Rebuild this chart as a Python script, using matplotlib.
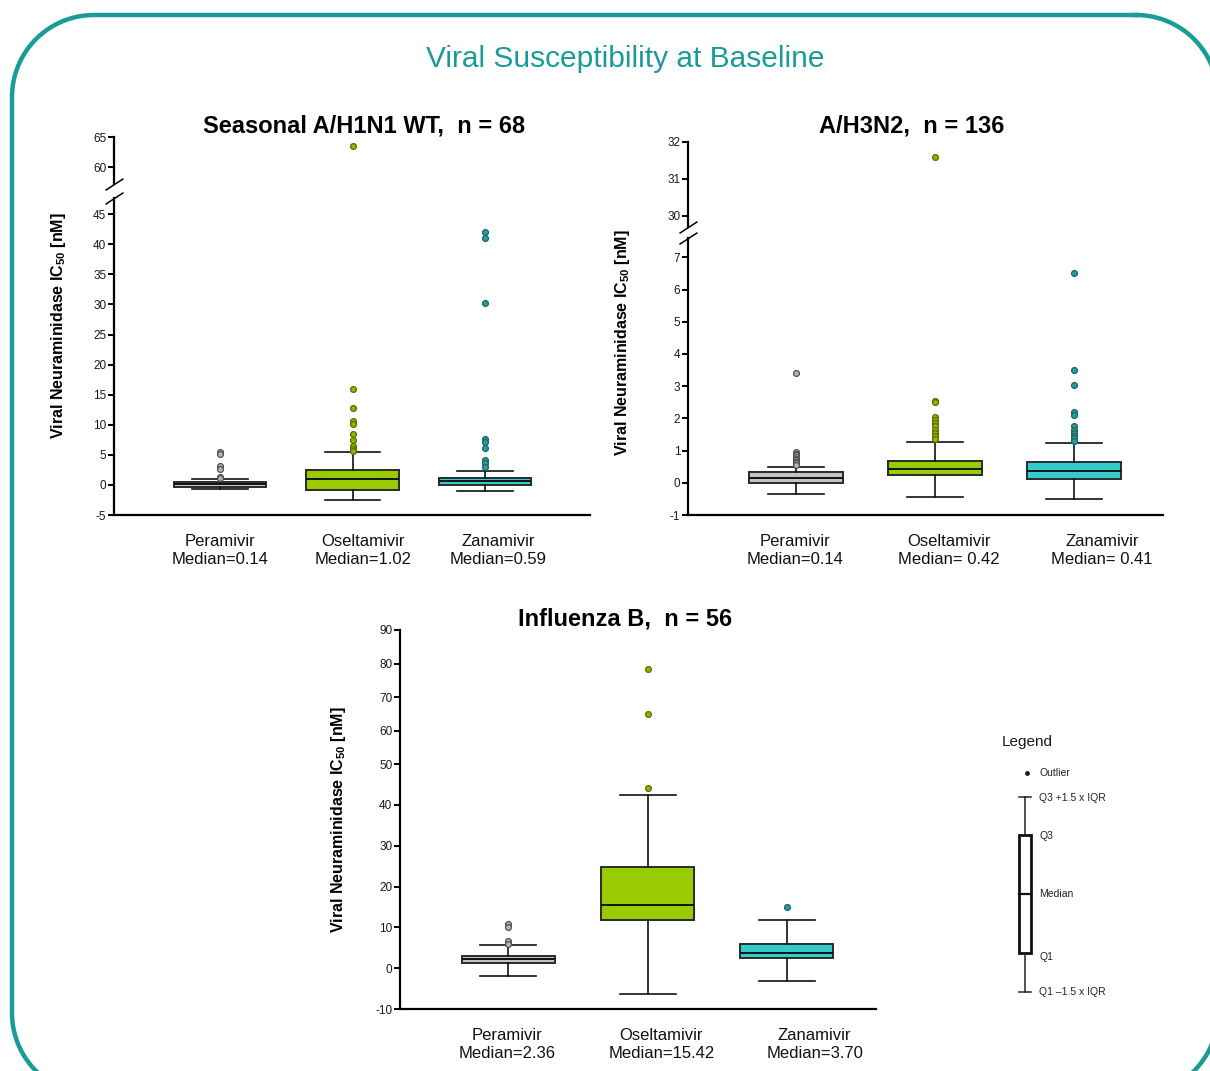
import numpy as np
import matplotlib
matplotlib.use("Agg")
import matplotlib.pyplot as plt
from matplotlib.patches import Rectangle

plt.rcParams['font.family'] = ['Liberation Sans', 'DejaVu Sans']
plt.rcParams['mathtext.fontset'] = 'custom'
plt.rcParams['mathtext.rm'] = 'Liberation Sans'
plt.rcParams['mathtext.bf'] = 'Liberation Sans:bold'
plt.rcParams['axes.unicode_minus'] = False

W, H = 1210, 1071

# ---- data ----
drugs = ["Peramivir", "Oseltamivir", "Zanamivir"]

h1n1_median_text = ["Median=0.14", "Median=1.02", "Median=0.59"]
h1n1_q1 = [-0.3, -0.8, 0.05]
h1n1_med = [0.14, 1.02, 0.59]
h1n1_q3 = [0.5, 2.5, 1.1]
h1n1_whislo = [-0.65, -2.5, -1.0]
h1n1_whishi = [1.05, 5.5, 2.3]
h1n1_fliers = [[5.5, 5.1, 3.1, 2.6, 1.3, 1.1],
               [63.5, 15.9, 12.8, 10.7, 10.2, 8.5, 7.5, 6.5, 6.0, 5.7],
               [42.0, 41.0, 30.2, 7.6, 7.2, 6.2, 4.2, 3.6, 2.9]]

h3n2_median_text = ["Median=0.14", "Median= 0.42", "Median= 0.41"]
h3n2_q1 = [-0.02, 0.25, 0.11]
h3n2_med = [0.14, 0.42, 0.37]
h3n2_q3 = [0.32, 0.69, 0.66]
h3n2_whislo = [-0.36, -0.44, -0.51]
h3n2_whishi = [0.49, 1.27, 1.23]
h3n2_fliers = [[3.4, 0.95, 0.9, 0.85, 0.8, 0.75, 0.7, 0.65, 0.6, 0.55],
               [31.6, 2.55, 2.5, 2.05, 1.95, 1.85, 1.75, 1.65, 1.55, 1.45, 1.35],
               [6.5, 3.5, 3.05, 2.2, 2.1, 1.75, 1.65, 1.55, 1.45, 1.38, 1.3]]

flub_median_text = ["Median=2.36", "Median=15.42", "Median=3.70"]
flub_q1 = [1.3, 11.9, 2.5]
flub_med = [2.36, 15.42, 3.70]
flub_q3 = [3.0, 24.7, 6.0]
flub_whislo = [-2.0, -6.3, -3.2]
flub_whishi = [5.8, 42.4, 11.9]
flub_fliers = [[10.9, 10.2, 6.6, 6.0], [78.4, 65.0, 44.2], [14.95]]

box_colors = ["#c4c4c4", "#99cc00", "#33cccc"]
flier_face = ["#b5b5b5", "#8db600", "#2a9d9d"]
flier_edge = ["#505050", "#587000", "#1b6262"]
teal = "#1a9a98"
ylabel = r"Viral Neuraminidase IC$_{\mathbf{50}}$ [nM]"


def rect(x0, y0, x1, y1):
    return [x0 / W, 1 - y1 / H, (x1 - x0) / W, (y1 - y0) / H]


def make_stats(q1, med, q3, lo, hi, fl):
    return [dict(q1=q1[i], med=med[i], q3=q3[i], whislo=lo[i], whishi=hi[i],
                 fliers=fl[i], label=drugs[i]) for i in range(3)]


def draw_boxes(ax, stats, width):
    for i, s in enumerate(stats):
        ax.bxp([s], positions=[i + 1], widths=width, capwidths=width * 0.6,
               patch_artist=True, showfliers=True,
               boxprops=dict(facecolor=box_colors[i], edgecolor="#2a2a2a", linewidth=1.4),
               medianprops=dict(color="#111111", linewidth=1.4),
               whiskerprops=dict(color="#111111", linewidth=1.2),
               capprops=dict(color="#111111", linewidth=1.2),
               flierprops=dict(marker="o", markersize=4.2, markerfacecolor=flier_face[i],
                               markeredgecolor=flier_edge[i], markeredgewidth=0.9))


def style_y(ax, ticks):
    ax.set_facecolor("none")
    for sp in ["top", "right"]:
        ax.spines[sp].set_visible(False)
    ax.spines["left"].set_linewidth(1.6)
    ax.spines["bottom"].set_linewidth(1.6)
    ax.set_yticks(ticks)
    ax.tick_params(axis="y", direction="out", length=4, width=1.4, pad=1.5,
                   labelsize=8.5, labelcolor="#1a1a1a")


def x_labels(ax, label_pos, med_text):
    ax.set_xticks(label_pos)
    ax.set_xticklabels([f"{d}\n{m}" for d, m in zip(drugs, med_text)],
                       fontsize=12, color="#111111", linespacing=1.2)
    ax.tick_params(axis="x", length=0, pad=14)


def break_marks(ax_low, ax_up):
    kw = dict(marker=[(-1, -0.65), (1, 0.65)], markersize=13, linestyle="none",
              color="k", mec="k", mew=1.1, clip_on=False)
    ax_low.plot([0], [1], transform=ax_low.transAxes, **kw)
    ax_up.plot([0], [0], transform=ax_up.transAxes, **kw)


fig = plt.figure(figsize=(W / 100, H / 100), dpi=100)

# ---- Panel 1: Seasonal A/H1N1 ----
xl1 = (1 - 106 / 132.5, 1 + 370 / 132.5)
s1 = make_stats(h1n1_q1, h1n1_med, h1n1_q3, h1n1_whislo, h1n1_whishi, h1n1_fliers)
a1 = fig.add_axes(rect(114, 198, 590, 515))
a1u = fig.add_axes(rect(114, 137, 590, 184))
for ax in (a1, a1u):
    draw_boxes(ax, s1, 0.70)
    ax.set_xlim(*xl1)
a1.set_ylim(-5, 47.7)
a1u.set_ylim(57.2, 65)
style_y(a1, np.arange(-5, 50, 5))
style_y(a1u, [60, 65])
a1u.spines["bottom"].set_visible(False)
a1u.set_xticks([])
x_labels(a1, [1, 2.08, 3.1], h1n1_median_text)
break_marks(a1, a1u)
fig.text(364 / W, 1 - 126 / H, "Seasonal A/H1N1 WT,  n = 68", ha="center", va="center",
         fontsize=17, fontweight="bold")
fig.text(58 / W, 1 - 326 / H, ylabel, rotation=90, ha="center", va="center",
         fontsize=11.5, fontweight="bold")

# ---- Panel 2: A/H3N2 ----
xl2 = (1 - 108 / 139, 1 + 367 / 139)
s2 = make_stats(h3n2_q1, h3n2_med, h3n2_q3, h3n2_whislo, h3n2_whishi, h3n2_fliers)
a2 = fig.add_axes(rect(688, 238, 1163, 515))
a2u = fig.add_axes(rect(688, 142, 1163, 227))
for ax in (a2, a2u):
    draw_boxes(ax, s2, 0.67)
    ax.set_xlim(*xl2)
a2.set_ylim(-1, 7.6)
a2u.set_ylim(29.7, 32)
style_y(a2, np.arange(-1, 8, 1))
style_y(a2u, [30, 31, 32])
a2u.spines["bottom"].set_visible(False)
a2u.set_xticks([])
x_labels(a2, [0.99, 2.1, 3.2], h3n2_median_text)
break_marks(a2, a2u)
fig.text(912 / W, 1 - 126 / H, "A/H3N2,  n = 136", ha="center", va="center",
         fontsize=17, fontweight="bold")
fig.text(623 / W, 1 - 343 / H, ylabel, rotation=90, ha="center", va="center",
         fontsize=11.5, fontweight="bold")

# ---- Panel 3: Influenza B (compressed above 50) ----
k = 33.5 / 40.8


def fwd(v):
    v = np.asarray(v, dtype=float)
    return np.where(v <= 50, v, 50 + (v - 50) * k)


def inv(u):
    u = np.asarray(u, dtype=float)
    return np.where(u <= 50, u, 50 + (u - 50) / k)


s3 = make_stats(flub_q1, flub_med, flub_q3, flub_whislo, flub_whishi, flub_fliers)
a3 = fig.add_axes(rect(400, 630, 876, 1009))
a3.set_yscale("function", functions=(fwd, inv))
draw_boxes(a3, s3, 0.67)
a3.set_xlim(*xl2)
a3.set_ylim(-10, 90)
style_y(a3, np.arange(-10, 100, 10))
a3.yaxis.set_major_formatter(matplotlib.ticker.FormatStrFormatter("%d"))
a3.yaxis.set_minor_locator(matplotlib.ticker.NullLocator())
x_labels(a3, [0.99, 2.1, 3.2], flub_median_text)
fig.text(625 / W, 1 - 619 / H, "Influenza B,  n = 56", ha="center", va="center",
         fontsize=17, fontweight="bold")
fig.text(338 / W, 1 - 820 / H, ylabel, rotation=90, ha="center", va="center",
         fontsize=11.5, fontweight="bold")

# ---- overlay: border, title, legend ----
ov = fig.add_axes([0, 0, 1, 1], zorder=10)
ov.set_xlim(0, W)
ov.set_ylim(H, 0)
ov.axis("off")
ov.set_facecolor("none")

# rounded frame, built from four quarter arcs
bx0, by0, bx1, by1, r = 12, 15, 1218, 1095, 82
t = np.linspace(0, np.pi / 2, 30)
corners = [(bx1 - r, by0 + r, t - np.pi / 2),        # top-right
           (bx1 - r, by1 - r, t),                    # bottom-right
           (bx0 + r, by1 - r, t + np.pi / 2),        # bottom-left
           (bx0 + r, by0 + r, t + np.pi)]            # top-left
px, py = [], []
for cx, cy, ang in corners:
    px.extend(cx + r * np.cos(ang))
    py.extend(cy + r * np.sin(ang))
px.append(px[0])
py.append(py[0])
ov.plot(px, py, color=teal, lw=3.2, clip_on=False, solid_joinstyle="round")

ov.text(625, 59, "Viral Susceptibility at Baseline", ha="center", va="center",
        fontsize=21.5, color=teal)

ov.text(1002, 742, "Legend", ha="left", va="center", fontsize=11, color="#1a1a1a")
ov.plot([1027], [773], "o", color="#222222", markersize=2.5)
ov.plot([1025, 1025], [797, 835], color="#222222", lw=1.1)
ov.plot([1025, 1025], [953, 992], color="#222222", lw=1.1)
ov.plot([1019, 1031], [797, 797], color="#222222", lw=1.1)
ov.plot([1019, 1031], [992, 992], color="#222222", lw=1.1)
ov.add_patch(Rectangle((1019, 835), 12, 118, fill=False, edgecolor="#111111", lw=2))
ov.plot([1019, 1031], [894, 894], color="#111111", lw=1.6)
for ytxt, txt in [(773, "Outlier"), (798, "Q3 +1.5 x IQR"), (836, "Q3"), (894, "Median"),
                  (957, "Q1"), (992, "Q1 \u20131.5 x IQR")]:
    ov.text(1039, ytxt, txt, ha="left", va="center", fontsize=7.5, color="#222222")

fig.savefig("out.png", dpi=100, facecolor="white")
